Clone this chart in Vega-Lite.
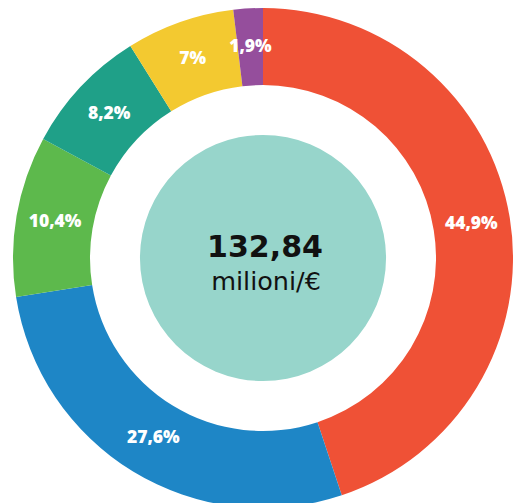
{
  "$schema": "https://vega.github.io/schema/vega-lite/v6.json",
  "width": 514,
  "height": 503,
  "autosize": "none",
  "padding": 0,
  "background": "white",
  "config": {"view": {"stroke": null}},
  "data": {"values": [
    {"rank": 1, "cat": "A", "value": 44.9, "label": "44,9%"},
    {"rank": 2, "cat": "B", "value": 27.6, "label": "27,6%"},
    {"rank": 3, "cat": "C", "value": 10.4, "label": "10,4%"},
    {"rank": 4, "cat": "D", "value": 8.2, "label": "8,2%"},
    {"rank": 5, "cat": "E", "value": 7.0, "label": "7%"},
    {"rank": 6, "cat": "F", "value": 1.9, "label": "1,9%"}
  ]},
  "layer": [
    {
      "mark": {"type": "arc", "outerRadius": 250, "innerRadius": 173, "x": {"expr": "width/2+6"}, "y": {"expr": "height/2+6.5"}},
      "encoding": {
        "theta": {"field": "value", "type": "quantitative", "stack": true},
        "order": {"field": "rank", "type": "quantitative"},
        "color": {"field": "cat", "type": "nominal", "legend": null,
          "scale": {"domain": ["A", "B", "C", "D", "E", "F"], "range": ["#EF5136", "#1E86C6", "#5DB94C", "#1FA088", "#F3C930", "#954E9C"]}}
      }
    },
    {
      "mark": {"type": "text", "radius": 211, "x": {"expr": "width/2+6"}, "y": {"expr": "height/2+6.5"}, "font": "Open Sans", "fontWeight": 800, "fontSize": 17.5, "fill": "white", "align": "center", "baseline": "middle"},
      "encoding": {
        "theta": {"field": "value", "type": "quantitative", "stack": true},
        "order": {"field": "rank", "type": "quantitative"},
        "text": {"field": "label", "type": "nominal"}
      }
    },
    {
      "data": {"values": [{"big": "132,84", "unit": "milioni/€"}]},
      "layer": [
        {
          "mark": {"type": "arc", "theta": 0, "theta2": 6.2832, "outerRadius": 123, "innerRadius": 0, "fill": "#97D5CB", "x": {"expr": "width/2+6"}, "y": {"expr": "height/2+6.5"}},
          "encoding": {}
        },
        {
          "mark": {"type": "text", "font": "DejaVu Sans", "fontWeight": "bold", "fontSize": 30, "fill": "#111111", "align": "center", "baseline": "alphabetic", "x": {"expr": "width/2+8"}, "y": {"expr": "height/2+5.5"}},
          "encoding": {"text": {"field": "big", "type": "nominal"}}
        },
        {
          "mark": {"type": "text", "font": "DejaVu Sans", "fontWeight": "normal", "fontSize": 25.5, "fill": "#111111", "align": "center", "baseline": "alphabetic", "x": {"expr": "width/2+9"}, "y": {"expr": "height/2+38.5"}},
          "encoding": {"text": {"field": "unit", "type": "nominal"}}
        }
      ]
    }
  ]
}
